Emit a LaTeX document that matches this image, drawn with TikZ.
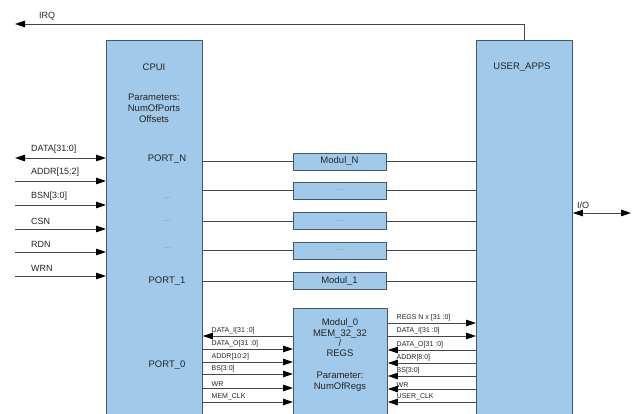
\documentclass[tikz,border=0pt]{standalone}
\usepackage{fontspec}
\setmainfont{Liberation Sans}
\usetikzlibrary{arrows.meta}
\definecolor{boxfill}{RGB}{161,202,234}
\definecolor{boxline}{RGB}{72,88,108}
\definecolor{wirecol}{RGB}{70,70,70}
\definecolor{txtcol}{RGB}{35,35,35}
\begin{document}
\begin{tikzpicture}[x=1pt,y=-1pt,
  box/.style={draw=boxline,fill=boxfill,line width=0.8pt,inner sep=0pt},
  wire/.style={draw=wirecol,line width=0.8pt},
  sig/.style={anchor=south west,inner sep=1pt,font=\fontsize{9}{10}\selectfont},
  small/.style={anchor=south west,inner sep=0.5pt,font=\fontsize{7}{8}\selectfont},
  dots/.style={font=\fontsize{8}{9}\selectfont,text=gray},
  >={Triangle[length=10pt,width=6.5pt,color=black]},
  font=\fontsize{9.5}{10.8}\selectfont,text=txtcol]
\useasboundingbox (0,0) rectangle (636,414);
\clip (0,0) rectangle (636,414);
% main blocks
\node[box,anchor=north west,minimum width=96pt,minimum height=390pt] (cpui) at (106,40) {};
\node[box,anchor=north west,minimum width=96pt,minimum height=390pt] (apps) at (476,40) {};
\node at (154,67) {CPUI};
\node[align=center] at (154,108) {Parameters:\\NumOfPorts\\Offsets};
\node at (522,67) {USER\_APPS};
\node at (167,159) {PORT\_N};
\node[dots] (pa) at (167,198) {\dots};
\node[dots] (pb) at (167,221) {\dots};
\node[dots] (pc) at (167,248) {\dots};
\node at (167,281) {PORT\_1};
\node at (167,365) {PORT\_0};
% modules
\node[box,minimum width=93pt,minimum height=17pt] (modN) at (339.5,161.5) {Modul\_N};
\node[box,minimum width=93pt,minimum height=17pt] (modA) at (339.5,190.5) {\color{gray}\fontsize{8}{9}\selectfont\dots};
\node[box,minimum width=93pt,minimum height=17pt] (modB) at (339.5,221) {\color{gray}\fontsize{8}{9}\selectfont\dots};
\node[box,minimum width=93pt,minimum height=17pt] (modC) at (339.5,250.5) {\color{gray}\fontsize{8}{9}\selectfont\dots};
\node[box,minimum width=93pt,minimum height=17pt] (mod1) at (339.5,281) {Modul\_1};
\foreach \m in {modN,modA,modB,modC,mod1} {
  \draw[wire] (cpui.east |- \m.west) -- (\m.west);
  \draw[wire] (\m.east) -- (\m.east -| apps.west);
}
\node[box,anchor=north west,minimum width=94pt,minimum height=120pt] (mod0) at (293,308) {};
\node[align=center,font=\fontsize{9.5}{10.4}\selectfont] at (340,338) {Modul\_0\\MEM\_32\_32\\/\\REGS};
\node[align=center] at (340,382) {Parameter:\\NumOfRegs};
% host bus
\coordinate (data) at (15,158);
\draw[wire,<->] (data) -- (data -| cpui.west);
\node[sig] at (30,155) {DATA[31:0]};
\foreach \y/\t in {181/ADDR[15:2],205/BSN[3:0],229/CSN,252/RDN,276/WRN} {
  \coordinate (s\y) at (15,\y);
  \draw[wire,->] (s\y) -- (s\y -| cpui.west);
  \node[sig] at (30,\y-3) {\t};
}
% irq and i/o
\coordinate (irq) at (15,24);
\draw[wire,->] (apps.north) -- (apps.north |- irq) -- (irq);
\node[sig] at (38,21) {IRQ};
\coordinate (io) at (631,213);
\draw[wire,<->] (apps.east |- io) -- (io);
\node[sig] at (576,210) {I/O};
% memory side of modul_0
\coordinate (ml336) at (293,336);
\draw[wire,->] (ml336) -- (ml336 -| cpui.east);
\node[small] at (211,335) {DATA\_I[31 :0]};
\foreach \y/\t in {349/DATA\_O[31 :0],362/ADDR[10:2],374/BS[3:0],388/WR,402/MEM\_CLK} {
  \coordinate (ml\y) at (202,\y);
  \draw[wire,->] (ml\y) -- (ml\y -| mod0.west);
  \node[small] at (211,\y-1) {\t};
}
\foreach \y/\t in {323/REGS N x [31 :0],336/DATA\_I[31 :0]} {
  \coordinate (mr\y) at (387,\y);
  \draw[wire,->] (mr\y) -- (mr\y -| apps.west);
  \node[small] at (396,\y-1) {\t};
}
\foreach \y/\t in {350/DATA\_O[31 :0],363/ADDR[8:0],376/BS[3:0],389/WR,402/USER\_CLK} {
  \coordinate (mr\y) at (476,\y);
  \draw[wire,->] (mr\y) -- (mr\y -| mod0.east);
  \node[small] at (396,\y-1) {\t};
}
\end{tikzpicture}
\end{document}
